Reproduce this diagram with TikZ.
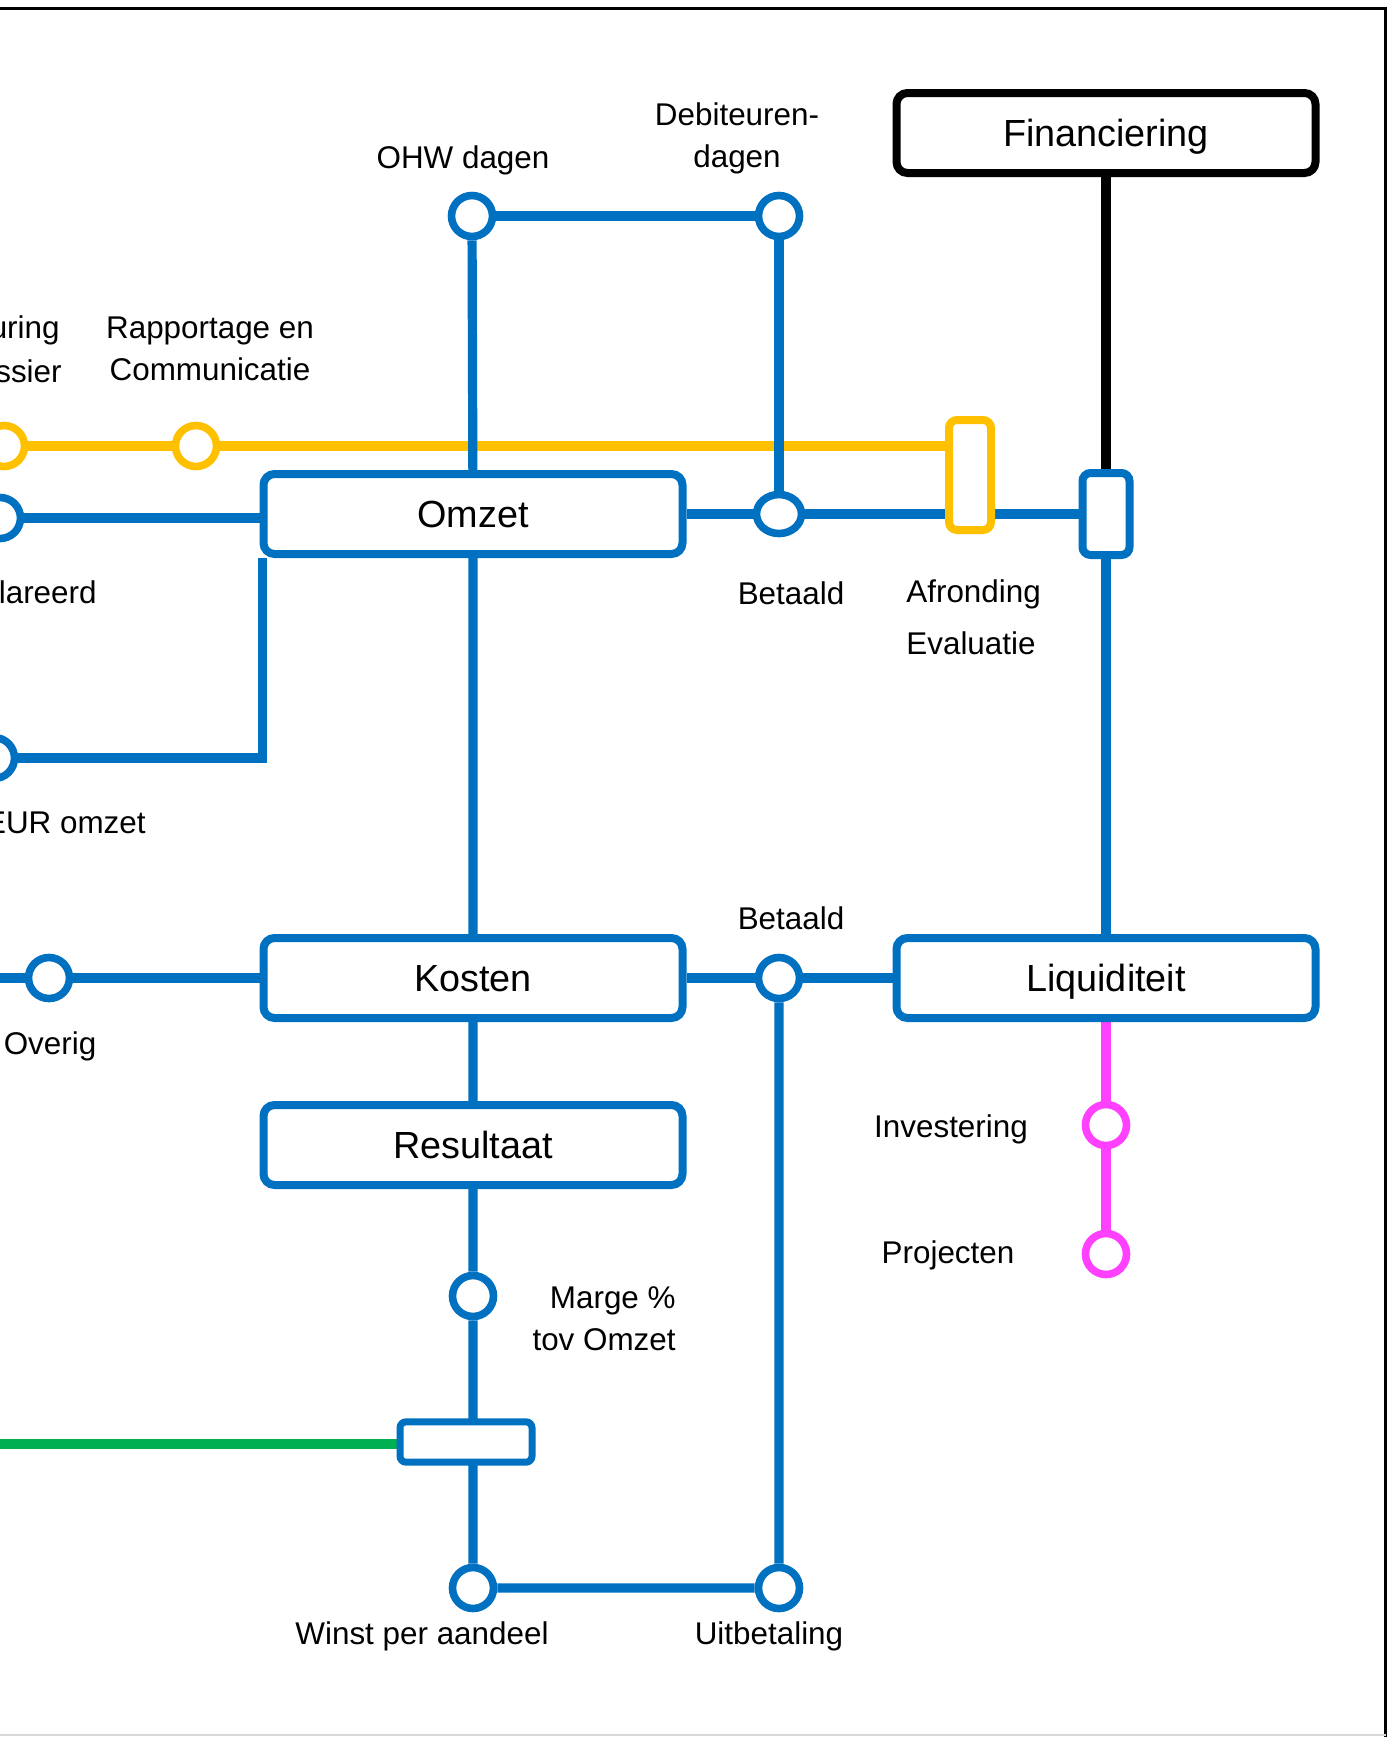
\documentclass[tikz,border=0pt]{standalone}
\usepackage{fontspec}
\setmainfont{Liberation Sans}
\usetikzlibrary{backgrounds,shapes.geometric}

\definecolor{lineblue}{HTML}{0070C0}
\definecolor{lineyellow}{HTML}{FFC000}
\definecolor{linegreen}{HTML}{00B050}
\definecolor{linepink}{HTML}{FF40FF}

\tikzset{
	station/.style={circle, draw=lineblue, line width=3.8pt, fill=white, inner sep=0pt, minimum size=20.5pt},
	hub/.style={rectangle, rounded corners=5.5pt, draw=lineblue, line width=4pt, fill=white, minimum width=209.5pt, minimum height=40pt, text height=13.5pt, text depth=0pt, font=\fontsize{18.9}{22}\selectfont},
	stationtext/.style={font=\fontsize{15.7}{21}\selectfont, inner sep=0pt, align=center},
	track/.style={line width=4.6pt}
}

\begin{document}
\begin{tikzpicture}[x=0.5pt, y=-0.5pt]
	\useasboundingbox (0,0) rectangle (1389,1737);
	\clip (0,0) rectangle (1389,1737);
	
	% frame
	\draw[line width=1.5pt] (-20,8.5) -- (1385.5,8.5) -- (1385.5,1760);
	\draw[line width=1pt, black!15] (-20,1735) -- (1385.5,1735);
	
	% hubs
	\node[hub] (omzet) at (473,514) {Omzet};
	\node[hub] (kosten) at (473,978) {Kosten};
	\node[hub] (resultaat) at (473,1145) {Resultaat};
	\node[hub] (liquiditeit) at (1106,978) {Liquiditeit};
	\node[hub, draw=black] (financiering) at (1106,133) {Financiering};
	
	% transfers
	\node[hub, minimum width=23.5pt, minimum height=41pt, rounded corners=4pt] (overstap) at (1106,514) {};
	\node[hub, draw=lineyellow, minimum width=21pt, minimum height=55pt, rounded corners=4pt] (afronding) at (970,475) {};
	\node[hub, minimum width=66pt, minimum height=16.5pt, rounded corners=3pt, line width=3.5pt] (kruising) at (466,1442) {};
	
	% stations
	\node[station, draw=lineyellow] (dossier) at (4,446) {};
	\node[station, draw=lineyellow] (rapportage) at (196,446) {};
	\node[station] (gedeclareerd) at (0,518) {};
	\node[station] (euromzet) at (-6,758) {};
	\node[station] (overig) at (49,978) {};
	\node[station] (ohw) at (472,216) {};
	\node[station] (debiteuren) at (779,216) {};
	\node[station, ellipse, minimum width=22.5pt, minimum height=19.5pt] (betaaldin) at (779,514) {};
	\node[station] (betaalduit) at (779,978) {};
	\node[station] (marge) at (473,1296) {};
	\node[station] (winst) at (473,1588) {};
	\node[station] (uitbetaling) at (779,1588) {};
	\node[station, draw=linepink] (investering) at (1106,1125) {};
	\node[station, draw=linepink] (projecten) at (1106,1254) {};
	
	\coordinate (geelbegin) at (-40,446);
	\coordinate (overigbegin) at (-40,978);
	\coordinate (groenbegin) at (-40,1444);
	
	% tracks
	\begin{scope}[on background layer]
		\draw[track, lineyellow] (geelbegin) -- (dossier) -- (rapportage) -- (rapportage -| afronding);
		\draw[track, linegreen] (groenbegin) -- (groenbegin -| kruising);
		\draw[track, lineblue] (ohw) -- (debiteuren) -- (betaaldin);
		\draw[track, lineblue] (ohw) -- (omzet) -- (kosten) -- (resultaat) -- (marge) -- (winst) -- (uitbetaling) -- (betaalduit);
		\draw[track, lineblue] (gedeclareerd) -- (gedeclareerd -| omzet);
		\draw[track, lineblue] ([xshift=1.5pt]omzet.south west) |- (euromzet);
		\draw[track, lineblue] (omzet) -- (betaaldin) -- (overstap) -- (liquiditeit);
		\draw[track, lineblue] (overigbegin) -- (overig) -- (kosten) -- (betaalduit) -- (liquiditeit);
		\draw[track] (financiering) -- (overstap);
		\draw[track, linepink] (liquiditeit) -- (investering) -- (projecten);
	\end{scope}
	
	% labels
	\node[stationtext, anchor=east] (dossiertekst) at (60,330) {uring};
	\node[stationtext, anchor=east] (dossiertekstb) at (62,371) {ssier};
	\node[stationtext] (rapportagetekst) at (210,349) {Rapportage en\\Communicatie};
	\node[stationtext] (ohwtekst) at (463,160) {OHW dagen};
	\node[stationtext] (debiteurentekst) at (737,138) {Debiteuren-\\dagen};
	\node[stationtext, anchor=east] (gedeclareerdtekst) at (97,592) {lareerd};
	\node[stationtext] (betaaldintekst) at (791,593) {Betaald};
	\node[stationtext, align=left, anchor=west] (afrondingtekst) at (906,617) {Afronding\\[5pt]Evaluatie};
	\node[stationtext, anchor=east] (euromzettekst) at (146,823) {EUR omzet};
	\node[stationtext] (betaalduittekst) at (791,918) {Betaald};
	\node[stationtext] (overigtekst) at (50,1046) {Overig};
	\node[stationtext] (investeringtekst) at (951,1129) {Investering};
	\node[stationtext] (projectentekst) at (948,1255) {Projecten};
	\node[stationtext, align=right, anchor=east] (margetekst) at (676,1319) {Marge \%\\tov Omzet};
	\node[stationtext] (winsttekst) at (422,1636) {Winst per aandeel};
	\node[stationtext] (uitbetalingtekst) at (769,1636) {Uitbetaling};
	
\end{tikzpicture}
\end{document}
